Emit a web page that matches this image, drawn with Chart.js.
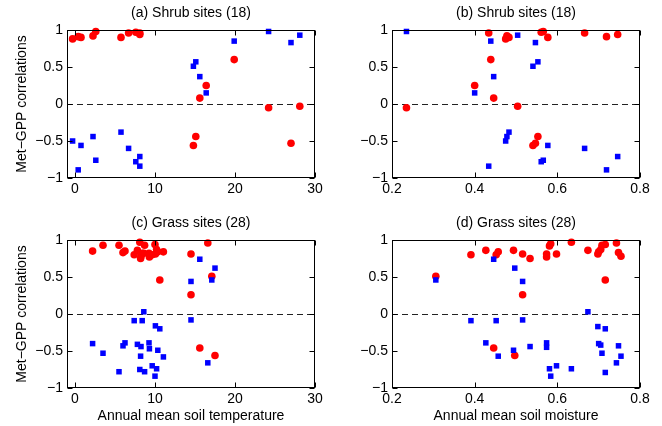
<!DOCTYPE html>
<html>
<head>
<meta charset="utf-8">
<script src="https://cdn.jsdelivr.net/npm/chart.js@4.4.0/dist/chart.umd.min.js"></script>
<style>
html, body { margin: 0; padding: 0; background: #fff; }
#wrap { position: relative; width: 662px; height: 426px; overflow: hidden; }
.panel { position: absolute; }
</style>
</head>
<body>
<div id="wrap">
  <div class="panel" style="left:0;top:0;width:330px;height:200px"><canvas id="chartA"></canvas></div>
  <div class="panel" style="left:330px;top:0;width:332px;height:200px"><canvas id="chartB"></canvas></div>
  <div class="panel" style="left:0;top:210px;width:330px;height:216px"><canvas id="chartC"></canvas></div>
  <div class="panel" style="left:330px;top:210px;width:332px;height:216px"><canvas id="chartD"></canvas></div>
</div>
<script>
// shrub sites (18): one entry per site
const shrubSoilTemp  = [-0.3, 0.4, 0.75, 2.25, 2.6, 5.75, 6.7, 7.6, 8.1, 8.1, 14.8, 15.1, 15.6, 16.4, 19.9, 24.2, 27.0, 28.1];
const shrubSoilMoist = [0.475, 0.719, 0.577, 0.478, 0.566, 0.483, 0.666, 0.561, 0.746, 0.434, 0.541, 0.553, 0.446, 0.40, 0.439, 0.235, 0.547, 0.504];
const shrubCorrRed   = [0.88, 0.91, 0.90, 0.92, 0.98, 0.90, 0.96, 0.97, 0.94, 0.96, -0.56, -0.44, 0.08, 0.25, 0.60, -0.05, -0.53, -0.03];
const shrubCorrBlue  = [-0.50, -0.89, -0.56, -0.44, -0.76, -0.38, -0.60, -0.78, -0.71, -0.84, 0.51, 0.57, 0.37, 0.15, 0.85, 0.98, 0.83, 0.93];

// grass sites (28) against soil temperature
const grassSoilTemp     = [2.2, 3.5, 5.5, 6.0, 6.25, 7.4, 7.8, 8.1, 8.25, 8.2, 8.4, 8.6, 8.7, 9.25, 9.3, 9.65, 10.0, 10.2, 10.05, 10.6, 10.35, 11.05, 14.5, 14.5, 15.6, 16.6, 17.1, 17.5];
const grassTempCorrRed  = [0.85, 0.93, 0.93, 0.83, 0.85, 0.80, 0.86, 0.97, 0.78, 0.75, 0.82, 0.82, 0.93, 0.82, 0.77, 0.80, 0.94, 0.87, 0.81, 0.46, 0.84, 0.84, 0.81, 0.26, -0.46, 0.96, 0.51, -0.56];
const grassTempCorrBlue = [-0.40, -0.53, -0.78, -0.43, -0.39, -0.09, -0.41, -0.75, -0.44, -0.57, -0.09, 0.03, -0.78, -0.39, -0.47, -0.70, -0.84, -0.74, -0.16, -0.20, -0.49, -0.58, -0.08, 0.44, 0.74, -0.66, 0.46, 0.62];

// grass sites against soil moisture
const grassSoilMoist     = [0.306, 0.391, 0.427, 0.446, 0.452, 0.457, 0.494, 0.497, 0.516, 0.516, 0.534, 0.574, 0.574, 0.581, 0.584, 0.598, 0.634, 0.674, 0.698, 0.700, 0.705, 0.708, 0.716, 0.716, 0.743, 0.748, 0.754];
const grassMoistCorrRed  = [0.51, 0.80, 0.86, -0.46, 0.80, 0.84, 0.86, -0.56, 0.81, 0.26, 0.75, 0.81, 0.77, 0.92, 0.95, 0.81, 0.97, 0.86, 0.81, 0.84, 0.87, 0.93, 0.46, 0.94, 0.96, 0.83, 0.78];
const grassMoistCorrBlue = [0.46, -0.09, -0.39, 0.74, -0.09, -0.57, -0.49, 0.62, -0.08, 0.44, -0.44, -0.39, -0.45, -0.74, -0.84, -0.70, -0.74, 0.03, -0.17, -0.40, -0.42, -0.53, -0.20, -0.79, -0.66, -0.43, -0.57];

const tempTicks  = [0, 10, 20, 30];
const moistTicks = [0.2, 0.4, 0.6, 0.8];
const corrTicks  = [-1, -0.5, 0, 0.5, 1];

const FONT = '"Liberation Sans", Arial, Helvetica, sans-serif';

function toPoints(xs, ys) {
    return xs.map((x, i) => ({ x: x, y: ys[i] }));
}

function label(v) {
    return String(v).replace('-', '\u2212');
}

// box, inward ticks, dashed zero line and panel title
const framePlugin = {
    id: 'frame',
    beforeDatasetsDraw(chart) {
        const { ctx, chartArea: a, scales: { y } } = chart;
        const y0 = Math.round(y.getPixelForValue(0)) + 0.5;
        ctx.save();
        ctx.strokeStyle = '#222';
        ctx.lineWidth = 1;
        ctx.setLineDash([6, 4]);
        ctx.beginPath();
        ctx.moveTo(a.left, y0);
        ctx.lineTo(a.right, y0);
        ctx.stroke();
        ctx.restore();
    },
    afterDraw(chart) {
        const { ctx, chartArea: a, scales: { x, y } } = chart;
        const L = Math.round(a.left) + 0.5, R = Math.round(a.right) - 0.5;
        const T = Math.round(a.top) + 0.5, B = Math.round(a.bottom) - 0.5;
        const len = 5;
        ctx.save();
        ctx.strokeStyle = '#000';
        ctx.lineWidth = 1;
        ctx.strokeRect(L, T, R - L, B - T);
        ctx.beginPath();
        x.ticks.forEach(t => {
            const px = Math.round(x.getPixelForValue(t.value)) + 0.5;
            ctx.moveTo(px, B); ctx.lineTo(px, B - len);
            ctx.moveTo(px, T); ctx.lineTo(px, T + len);
        });
        y.ticks.forEach(t => {
            const py = Math.round(y.getPixelForValue(t.value)) + 0.5;
            ctx.moveTo(L, py); ctx.lineTo(L + len, py);
            ctx.moveTo(R, py); ctx.lineTo(R - len, py);
        });
        ctx.stroke();
        // title centred on the plot box
        ctx.fillStyle = '#000';
        ctx.font = '14px ' + FONT;
        ctx.textAlign = 'center';
        ctx.textBaseline = 'middle';
        ctx.fillText(chart.options.plugins.frame.title, (a.left + a.right) / 2, 13);
        ctx.restore();
    }
};

function makePanel(id, o) {
    new Chart(document.getElementById(id), {
        type: 'scatter',
        data: {
            datasets: [{
                data: toPoints(o.xs, o.blue),
                pointStyle: 'rect',
                pointRadius: 3.9,
                backgroundColor: '#0000ff',
                borderWidth: 0
            }, {
                data: toPoints(o.xs, o.red),
                pointStyle: 'circle',
                pointRadius: 3.8,
                backgroundColor: '#ff0000',
                borderWidth: 0
            }]
        },
        options: {
            responsive: true,
            maintainAspectRatio: false,
            animation: false,
            clip: false,
            layout: { padding: { top: 30, right: o.padRight, left: 0, bottom: 0 } },
            plugins: {
                legend: { display: false },
                tooltip: { enabled: false },
                frame: { title: o.title }
            },
            scales: {
                x: {
                    type: 'linear',
                    min: o.xMin,
                    max: o.xMax,
                    grid: { display: false, drawTicks: false },
                    border: { display: false },
                    afterBuildTicks: s => { s.ticks = o.xTicks.map(v => ({ value: v })); },
                    afterFit: s => { s.height = o.xHeight; },
                    ticks: {
                        color: '#000',
                        padding: 3,
                        maxRotation: 0,
                        font: { family: FONT, size: 14 },
                        callback: v => label(v)
                    },
                    title: {
                        display: !!o.xTitle,
                        text: o.xTitle || '',
                        color: '#000',
                        padding: { top: 0, bottom: 1.6 },
                        font: { family: FONT, size: 14 }
                    }
                },
                y: {
                    type: 'linear',
                    min: -1,
                    max: 1,
                    grid: { display: false, drawTicks: false },
                    border: { display: false },
                    afterBuildTicks: s => { s.ticks = corrTicks.map(v => ({ value: v })); },
                    afterFit: s => { s.width = o.yWidth; },
                    ticks: {
                        color: '#000',
                        padding: 4,
                        font: { family: FONT, size: 14 },
                        callback: v => label(v)
                    },
                    title: {
                        display: o.yTitle,
                        text: 'Met\u2212GPP correlations',
                        color: '#000',
                        padding: { top: 13.6, bottom: 0 },
                        font: { family: FONT, size: 14 }
                    }
                }
            }
        },
        plugins: [framePlugin]
    });
}

makePanel('chartA', {
    title: '(a) Shrub sites (18)', xs: shrubSoilTemp, red: shrubCorrRed, blue: shrubCorrBlue,
    xMin: -1, xMax: 30, xTicks: tempTicks, yTitle: true, yWidth: 67, padRight: 15, xHeight: 22
});
makePanel('chartB', {
    title: '(b) Shrub sites (18)', xs: shrubSoilMoist, red: shrubCorrRed, blue: shrubCorrBlue,
    xMin: 0.2, xMax: 0.8, xTicks: moistTicks, yTitle: false, yWidth: 62, padRight: 22, xHeight: 22
});
makePanel('chartC', {
    title: '(c) Grass sites (28)', xs: grassSoilTemp, red: grassTempCorrRed, blue: grassTempCorrBlue,
    xMin: -1, xMax: 30, xTicks: tempTicks, yTitle: true, yWidth: 67, padRight: 15, xHeight: 38,
    xTitle: 'Annual mean soil temperature'
});
makePanel('chartD', {
    title: '(d) Grass sites (28)', xs: grassSoilMoist, red: grassMoistCorrRed, blue: grassMoistCorrBlue,
    xMin: 0.2, xMax: 0.8, xTicks: moistTicks, yTitle: false, yWidth: 62, padRight: 22, xHeight: 38,
    xTitle: 'Annual mean soil moisture'
});
</script>
</body>
</html>
